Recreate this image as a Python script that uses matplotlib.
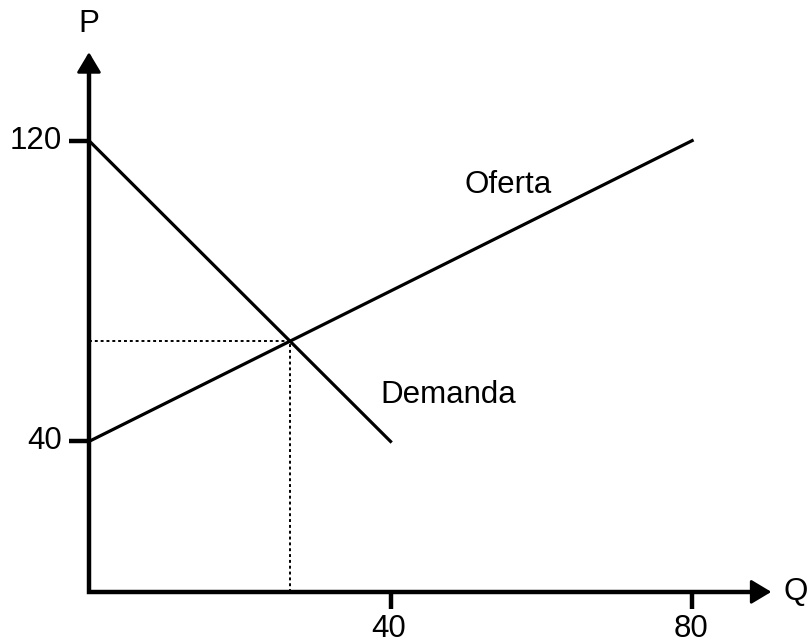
import numpy as np
import matplotlib.pyplot as plt

plt.rcParams['font.family'] = ['Liberation Sans', 'DejaVu Sans']

# supply and demand lines (Q, P)
oferta_q = [0, 80]
oferta_p = [40, 120]
demanda_q = [0, 40]
demanda_p = [120, 40]

x_ticks = [40, 80]
y_ticks = [40, 120]

# equilibrium from the two lines
a_s = np.polyfit(oferta_q, oferta_p, 1)
a_d = np.polyfit(demanda_q, demanda_p, 1)
eq_q = (a_d[1] - a_s[1]) / (a_s[0] - a_d[0])
eq_p = a_s[0] * eq_q + a_s[1]

fig = plt.figure(figsize=(8.09, 6.43), dpi=100)
ax = fig.add_axes([0, 0, 1, 1])
ax.set_xlim(-11.8, 95.5)
ax.set_ylim(-13.6, 157.4)
ax.axis('off')

fs = 22.5
arrow = dict(arrowstyle='-|>,head_length=1.25,head_width=0.75', lw=2.0,
             color='k', shrinkA=0, shrinkB=0, mutation_scale=10)
# axes with arrows
ax.plot([0, 0, 89], [142, 0, 0], color='k', lw=3.2, solid_joinstyle='miter')
ax.annotate('', xy=(0, 143.5), xytext=(0, 130), arrowprops=arrow)
ax.annotate('', xy=(90.5, 0), xytext=(85, 0), arrowprops=arrow)
ax.text(0, 151, 'P', fontsize=fs, ha='center', va='center')
ax.text(93.8, 0, 'Q', fontsize=fs, ha='center', va='center')

# ticks
for t in y_ticks:
    ax.plot([-2.6, 0], [t, t], color='k', lw=3.2, solid_capstyle='butt')
    ax.text(-3.6, t, str(t), fontsize=fs, ha='right', va='center')
for t in x_ticks:
    ax.plot([t, t], [0, -4.5], color='k', lw=3.2, solid_capstyle='butt')
    ax.text(t - 0.2, -9.9, str(t), fontsize=fs, ha='center', va='center')

# curves
ax.plot(oferta_q, oferta_p, color='k', lw=2.3)
ax.plot(demanda_q, demanda_p, color='k', lw=2.3)

# equilibrium guides
ax.plot([0, eq_q], [eq_p, eq_p], color='k', lw=1.4, ls=(0, (1.5, 1.5)))
ax.plot([eq_q, eq_q], [0, eq_p], color='k', lw=1.4, ls=(0, (1.5, 1.5)))

ax.text(55.6, 108.2, 'Oferta', fontsize=fs, ha='center', va='center')
ax.text(47.6, 52.4, 'Demanda', fontsize=fs, ha='center', va='center')

fig.savefig('out.png', dpi=100)
